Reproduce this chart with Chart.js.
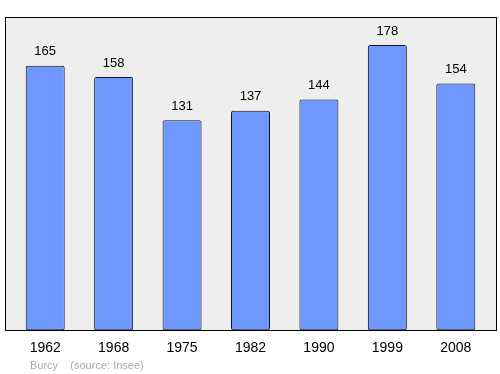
<!DOCTYPE html>
<html><head><meta charset="utf-8">
<script src="https://cdn.jsdelivr.net/npm/chart.js@4/dist/chart.umd.min.js"></script>
<style>
html,body{margin:0;padding:0;background:#fff;}
#wrap{position:relative;width:500px;height:374px;}
#foot{position:absolute;left:30px;top:359px;font:11px "Liberation Sans",Arial,sans-serif;color:#aaaaaa;white-space:pre;}
</style></head>
<body><div id="wrap"><canvas id="c" width="500" height="374"></canvas><div id="foot">Burcy    (source: Insee)</div></div>
<script>
const years = ["1962","1968","1975","1982","1990","1999","2008"];
const population = [165,158,131,137,144,178,154];

const boxPlugin = {
  id:'box',
  beforeDraw(chart){
    const a = chart.chartArea, ctx = chart.ctx;
    ctx.save();
    ctx.fillStyle = '#eeeeee';
    ctx.fillRect(a.left-6, a.top, a.right-a.left+12, a.bottom-a.top);
    ctx.strokeStyle = '#000';
    ctx.lineWidth = 1;
    ctx.strokeRect(Math.round(a.left-6)+0.5, Math.round(a.top)+0.5, Math.round(a.right-a.left+12), Math.round(a.bottom-a.top));
    ctx.restore();
  },
  afterDatasetsDraw(chart){
    const ctx = chart.ctx;
    const meta = chart.getDatasetMeta(0);
    ctx.save();
    ctx.font = '13px "Liberation Sans", Arial, sans-serif';
    ctx.fillStyle = '#000';
    ctx.textAlign = 'center';
    ctx.textBaseline = 'middle';
    meta.data.forEach((bar,i)=>{
      ctx.fillText(String(population[i]), bar.x, bar.y-14);
    });
    ctx.restore();
  }
};

new Chart(document.getElementById('c'), {
  type:'bar',
  data:{labels:years, datasets:[{data:population, backgroundColor:'#7099ff', borderColor:'#111', borderWidth:1, borderSkipped:false, borderRadius:2, categoryPercentage:1, barPercentage:0.57}]},
  options:{
    responsive:false, animation:false,
    layout:{padding:{left:11, right:10, top:17, bottom:7}},
    plugins:{legend:{display:false}, tooltip:{enabled:false}},
    scales:{
      x:{grid:{display:false, drawTicks:false}, border:{display:false},
         ticks:{color:'#000', padding:10, font:{family:'"Liberation Sans", Arial, sans-serif', size:14}}},
      y:{display:false, min:0, max:195.5}
    }
  },
  plugins:[boxPlugin]
});
</script>
</body></html>
